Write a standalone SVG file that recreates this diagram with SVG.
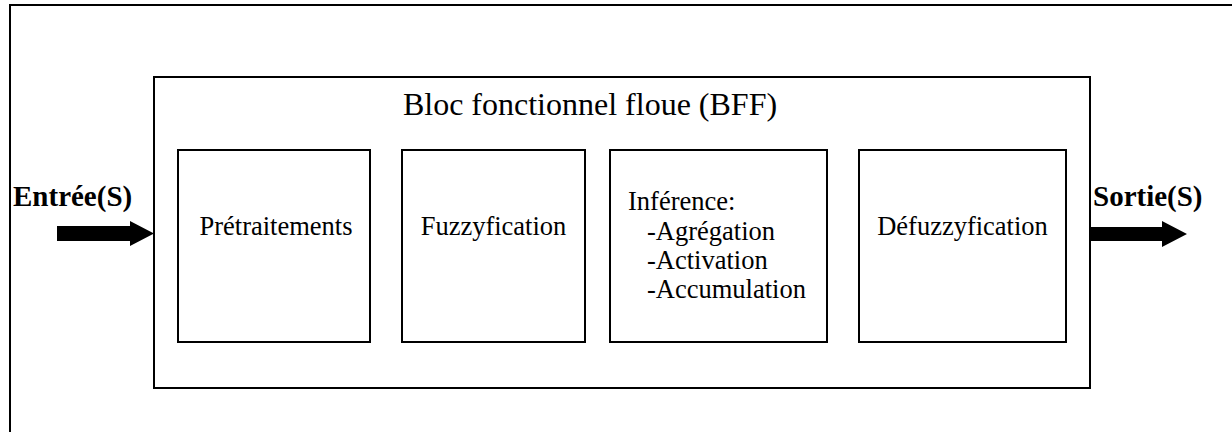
<svg xmlns="http://www.w3.org/2000/svg" width="1232" height="432" viewBox="0 0 1232 432">
<style>
.box{fill:#fff;stroke:#000;stroke-width:2}
.t{font-family:"Liberation Serif","Times New Roman",serif;fill:#000}
.lbl{font-size:26.5px}
.ttl{font-size:32px}
.io{font-size:29px;font-weight:bold}
.arr{fill:#000}
</style>
<rect width="1232" height="432" fill="#fff"/>
<g id="frame"><path d="M10,432 V5 H1232" fill="none" stroke="#000" stroke-width="2"/></g>
<g id="bff"><rect class="box" x="154" y="77" width="936" height="311"/>
<text class="t ttl" x="590" y="115" text-anchor="middle">Bloc fonctionnel floue (BFF)</text></g>
<g id="pretraitements"><rect class="box" x="178" y="150" width="192" height="192"/>
<text class="t lbl" x="276" y="235" text-anchor="middle">Prétraitements</text></g>
<g id="fuzzyfication"><rect class="box" x="402" y="150" width="183" height="192"/>
<text class="t lbl" x="493.5" y="235" text-anchor="middle">Fuzzyfication</text></g>
<g id="inference"><rect class="box" x="610" y="150" width="217" height="192"/>
<text class="t lbl" x="628" y="210">Inférence:</text>
<text class="t lbl" x="647" y="240">-Agrégation</text>
<text class="t lbl" x="647" y="269">-Activation</text>
<text class="t lbl" x="647" y="298">-Accumulation</text></g>
<g id="defuzzyfication"><rect class="box" x="859" y="150" width="207" height="192"/>
<text class="t lbl" x="962.5" y="235" text-anchor="middle">Défuzzyfication</text></g>
<g id="entree"><text class="t io" x="13" y="206">Entrée(S)</text></g>
<g id="sortie"><text class="t io" x="1093" y="206">Sortie(S)</text></g>
<g id="connectors">
<polygon class="arr" points="57,226 130,226 130,221 154,233.5 130,246 130,241 57,241"/>
<polygon class="arr" points="1090,227 1162,227 1162,221 1187,234 1162,247 1162,241 1090,241"/>
</g>
</svg>
